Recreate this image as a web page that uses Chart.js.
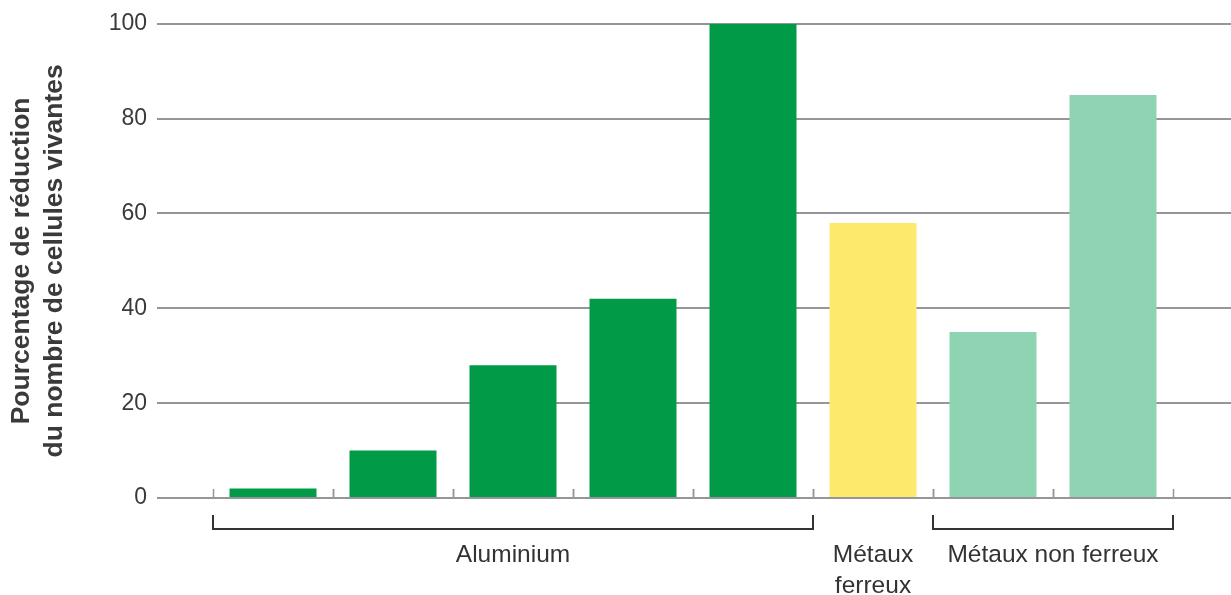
<!DOCTYPE html>
<html lang="fr">
<head>
<meta charset="utf-8">
<title>Réduction du nombre de cellules vivantes</title>
<script src="https://cdn.jsdelivr.net/npm/chart.js@4.4.1/dist/chart.umd.min.js"></script>
<style>
  html, body { margin: 0; padding: 0; background: #ffffff; }
  #wrap { width: 1231px; height: 595px; position: relative; }
</style>
</head>
<body>
<div id="wrap"><canvas id="chart" width="1231" height="595"></canvas></div>
<script>
// Échantillons testés (un par barre)
const samples = ['Al 1', 'Al 2', 'Al 3', 'Al 4', 'Al 5', 'Fe', 'NF 1', 'NF 2'];
// Pourcentage de réduction du nombre de cellules vivantes
const reduction = [2, 10, 28, 42, 100, 58, 35, 85];
// Famille de métal de chaque barre
const family = ['al', 'al', 'al', 'al', 'al', 'fe', 'nf', 'nf'];
const familyColors = { al: '#019b48', fe: '#fde96c', nf: '#8fd4b2' };

// Graduations de l'axe vertical
const yTicks = [0, 20, 40, 60, 80, 100];
const yTitle = ['Pourcentage de réduction', 'du nombre de cellules vivantes'];

// Groupes sous l'axe : libellé, première et dernière barre, accolade
const groupLabels = [['Aluminium'], ['Métaux', 'ferreux'], ['Métaux non ferreux']];
const groupFirst = [0, 5, 6];
const groupLast = [4, 5, 7];
const groupBracket = [true, false, true];

const GRID = '#96969a';
const INK = '#333333';
const TEXT_FONT = '"Liberation Sans", Arial, Helvetica, sans-serif';

// Bords d'une catégorie, à partir des centres donnés par l'échelle
function categoryEdges(x, i) {
  const c = x.getPixelForValue(i);
  const half = (x.getPixelForValue(1) - x.getPixelForValue(0)) / 2;
  return [c - half, c + half];
}

const decorations = {
  id: 'decorations',
  beforeDatasetsDraw(chart) {
    // prolongement des lignes de grille vers la droite
    const { ctx, chartArea, scales: { y } } = chart;
    ctx.save();
    ctx.strokeStyle = GRID;
    ctx.lineWidth = 2;
    yTicks.forEach(v => {
      const py = Math.round(y.getPixelForValue(v));
      ctx.beginPath();
      ctx.moveTo(chartArea.right, py); ctx.lineTo(chart.width, py);
      ctx.stroke();
    });
    ctx.restore();
  },
  afterDatasetsDraw(chart) {
    const { ctx, scales: { x, y } } = chart;
    const base = Math.round(y.getPixelForValue(0));
    ctx.save();
    // petits repères entre les barres
    ctx.strokeStyle = GRID;
    ctx.lineWidth = 1.5;
    for (let i = 0; i < samples.length; i++) {
      const [l, r] = categoryEdges(x, i);
      [l, r].forEach(px => {
        ctx.beginPath();
        ctx.moveTo(Math.round(px) + 0.5, base - 9);
        ctx.lineTo(Math.round(px) + 0.5, base);
        ctx.stroke();
      });
    }
    // accolades et libellés des groupes
    ctx.strokeStyle = INK;
    ctx.lineWidth = 2;
    ctx.fillStyle = INK;
    ctx.font = '24.5px ' + TEXT_FONT;
    ctx.textAlign = 'center';
    ctx.textBaseline = 'middle';
    groupLabels.forEach((lines, g) => {
      const left = categoryEdges(x, groupFirst[g])[0];
      const right = categoryEdges(x, groupLast[g])[1];
      if (groupBracket[g]) {
        const top = base + 17, bot = base + 31;
        ctx.beginPath();
        ctx.moveTo(Math.round(left), top);
        ctx.lineTo(Math.round(left), bot);
        ctx.lineTo(Math.round(right), bot);
        ctx.lineTo(Math.round(right), top);
        ctx.stroke();
      }
      const cx = (left + right) / 2;
      lines.forEach((t, k) => ctx.fillText(t, cx, base + 57 + k * 31));
    });
    ctx.restore();
  }
};

new Chart(document.getElementById('chart'), {
  type: 'bar',
  data: {
    labels: samples,
    datasets: [{
      data: reduction,
      backgroundColor: family.map(f => familyColors[f]),
      borderWidth: 0,
      barPercentage: 0.725,
      categoryPercentage: 1
    }]
  },
  options: {
    responsive: false,
    animation: false,
    events: [],
    layout: { padding: { top: 10, right: 58, bottom: 97, left: 0 } },
    plugins: { legend: { display: false }, tooltip: { enabled: false } },
    scales: {
      x: { display: false, offset: true },
      y: {
        min: 0,
        max: 100,
        afterFit(scale) { scale.width = 213; },
        afterBuildTicks(scale) { scale.ticks = yTicks.map(v => ({ value: v })); },
        border: { display: false },
        grid: { color: GRID, lineWidth: 2, drawTicks: true, tickLength: 56 },
        ticks: {
          padding: 10,
          color: '#3a3a3a',
          font: { family: TEXT_FONT, size: 23 }
        },
        title: {
          display: true,
          text: yTitle,
          color: '#3a3a3a',
          font: { family: TEXT_FONT, size: 26.5, weight: 'bold', lineHeight: 1.22 },
          padding: { top: 6, bottom: 0 }
        }
      }
    }
  },
  plugins: [decorations]
});
</script>
</body>
</html>
